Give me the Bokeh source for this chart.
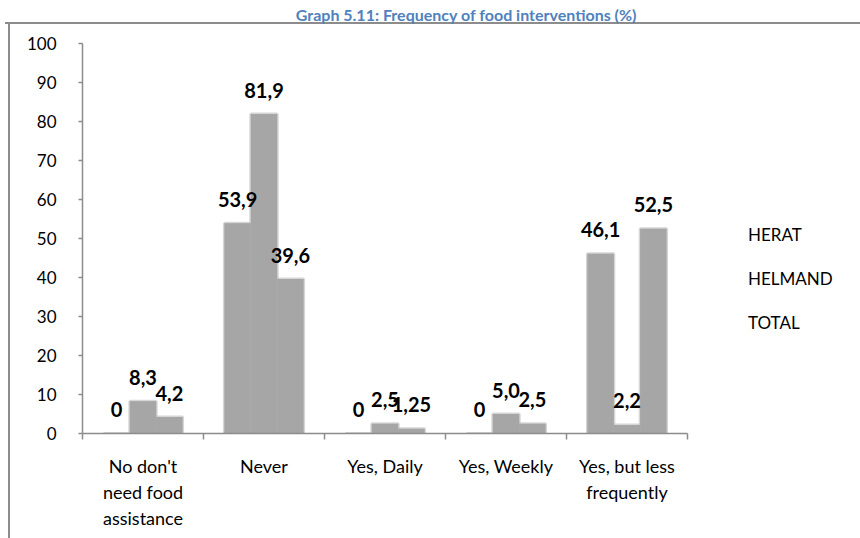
import numpy as np
from bokeh.plotting import figure
from bokeh.models import (Range1d, FixedTicker, Legend, LegendItem, ColumnDataSource,
                          LinearAxis)
from bokeh.core.properties import value
from bokeh.embed import file_html
from bokeh.resources import INLINE

# ---------------- data ----------------
title_text = "Graph 5.11: Frequency of food interventions (%)"
categories = ["No don't\nneed food\nassistance", "Never", "Yes, Daily", "Yes, Weekly",
              "Yes, but less\nfrequently"]
series = ["HERAT", "HELMAND", "TOTAL"]
herat = [0, 53.9, 0, 0, 46.1]
helmand = [8.3, 81.9, 2.5, 5.0, 2.2]
total = [4.2, 39.6, 1.25, 2.5, 52.5]
herat_labels = ["0", "53,9", "0", "0", "46,1"]
helmand_labels = ["8,3", "81,9", "2,5", "5,0", "2,2"]
total_labels = ["4,2", "39,6", "1,25", "2,5", "52,5"]
y_ticks = [0, 10, 20, 30, 40, 50, 60, 70, 80, 90, 100]

FONT = "Lato"
GRAY_AXIS = "#8C8C8C"
BAR = "#A6A6A6"

# ---------------- layout constants ----------------
W, H = 860, 538
ML, MR, MT, MB = 82, 10, 43, 105
n = len(categories)
cat_px = 121.0                      # pixel width of one category slot
x_end = (W - ML - MR) / cat_px      # extra room on the right hosts the legend

p = figure(width=W, height=H, x_range=Range1d(0, x_end), y_range=Range1d(0, 100),
           output_backend="svg", toolbar_location=None, title=None,
           min_border_left=ML, min_border_right=MR, min_border_top=MT, min_border_bottom=MB)
p.border_fill_color = None
p.background_fill_color = None
p.outline_line_color = None
p.xgrid.visible = False
p.ygrid.visible = False
# frame lines of the original picture (top and left edges)
p.styles = {
    "background-image": "linear-gradient(#8C8C8C, #8C8C8C), linear-gradient(#8C8C8C, #8C8C8C)",
    "background-size": "2px 530px, 860px 2px",
    "background-position": "8px 22px, 5px 22px",
    "background-repeat": "no-repeat",
}

xa = p.below[0]
ya = p.left[0]

# title, carried by a bare axis above the frame
top_axis = LinearAxis(axis_label=title_text, ticker=FixedTicker(ticks=[]),
                      axis_line_color=None, major_tick_line_color=None,
                      minor_tick_line_color=None, major_tick_out=0, major_tick_in=0,
                      minor_tick_out=0, minor_tick_in=0, major_label_standoff=0,
                      axis_label_standoff=20,
                      axis_label_text_font=FONT, axis_label_text_font_style="bold",
                      axis_label_text_font_size="16px", axis_label_text_color="#4F81BD")
p.add_layout(top_axis, "above")

centers = [i + 0.5 for i in range(n)]
xa.bounds = (0, n)
xa.ticker = FixedTicker(ticks=centers, minor_ticks=list(range(n + 1)))
xa.major_label_overrides = {c: lab for c, lab in zip(centers, categories)}
xa.major_tick_out = 0
xa.major_tick_in = 0
xa.minor_tick_out = 6
xa.minor_tick_in = 0
xa.minor_tick_line_color = GRAY_AXIS
xa.minor_tick_line_width = 1.5
xa.major_label_standoff = 15
xa.major_label_text_font = FONT
xa.major_label_text_font_size = "18px"
xa.major_label_text_color = "black"
xa.major_label_text_line_height = 1.2

ya.ticker = FixedTicker(ticks=y_ticks)
ya.major_tick_out = 4
ya.major_tick_in = 0
ya.minor_tick_out = 0
ya.minor_tick_in = 0
ya.major_label_standoff = 22
ya.major_label_text_font = FONT
ya.major_label_text_font_size = "17px"
ya.major_label_text_color = "black"

for ax in (xa, ya):
    ax.axis_line_color = GRAY_AXIS
    ax.axis_line_width = 1.5
    ax.major_tick_line_color = GRAY_AXIS
    ax.major_tick_line_width = 1.5

w = 0.218
offsets = [-w, 0.0, w]
xc = np.array(centers)
sources = []
for vals, labs, off in zip([herat, helmand, total],
                           [herat_labels, helmand_labels, total_labels], offsets):
    sources.append(ColumnDataSource(dict(x=xc + off, top=vals, label=labs)))

# soft halo under the bars (imitates the blurred edges of the original)
for src in sources:
    p.vbar(x="x", top="top", width=w, source=src, fill_color=BAR,
           line_color="#C4C4C4", line_width=3, line_alpha=0.7)
for src in sources:
    p.vbar(x="x", top="top", width=w, source=src, fill_color=BAR, line_color=None)
for src in sources:
    p.text(x="x", y="top", text="label", source=src, text_font=value(FONT),
           text_font_style="bold", text_font_size="20px", text_color="black",
           text_align="center", text_baseline="middle", y_offset=-24)

items = []
for name in series:
    r = p.vbar(x=[], top=[], width=0.1, fill_alpha=0, line_alpha=0)
    items.append(LegendItem(label=name, renderers=[r]))
legend = Legend(items=items, location=(665, 100), glyph_width=1, glyph_height=20,
                label_height=20, label_standoff=0, spacing=23, padding=0, margin=0,
                border_line_alpha=0, background_fill_alpha=0,
                label_text_font=FONT, label_text_font_size="17px", label_text_color="black")
p.add_layout(legend)

open("out.html", "w").write(file_html(p, INLINE))
